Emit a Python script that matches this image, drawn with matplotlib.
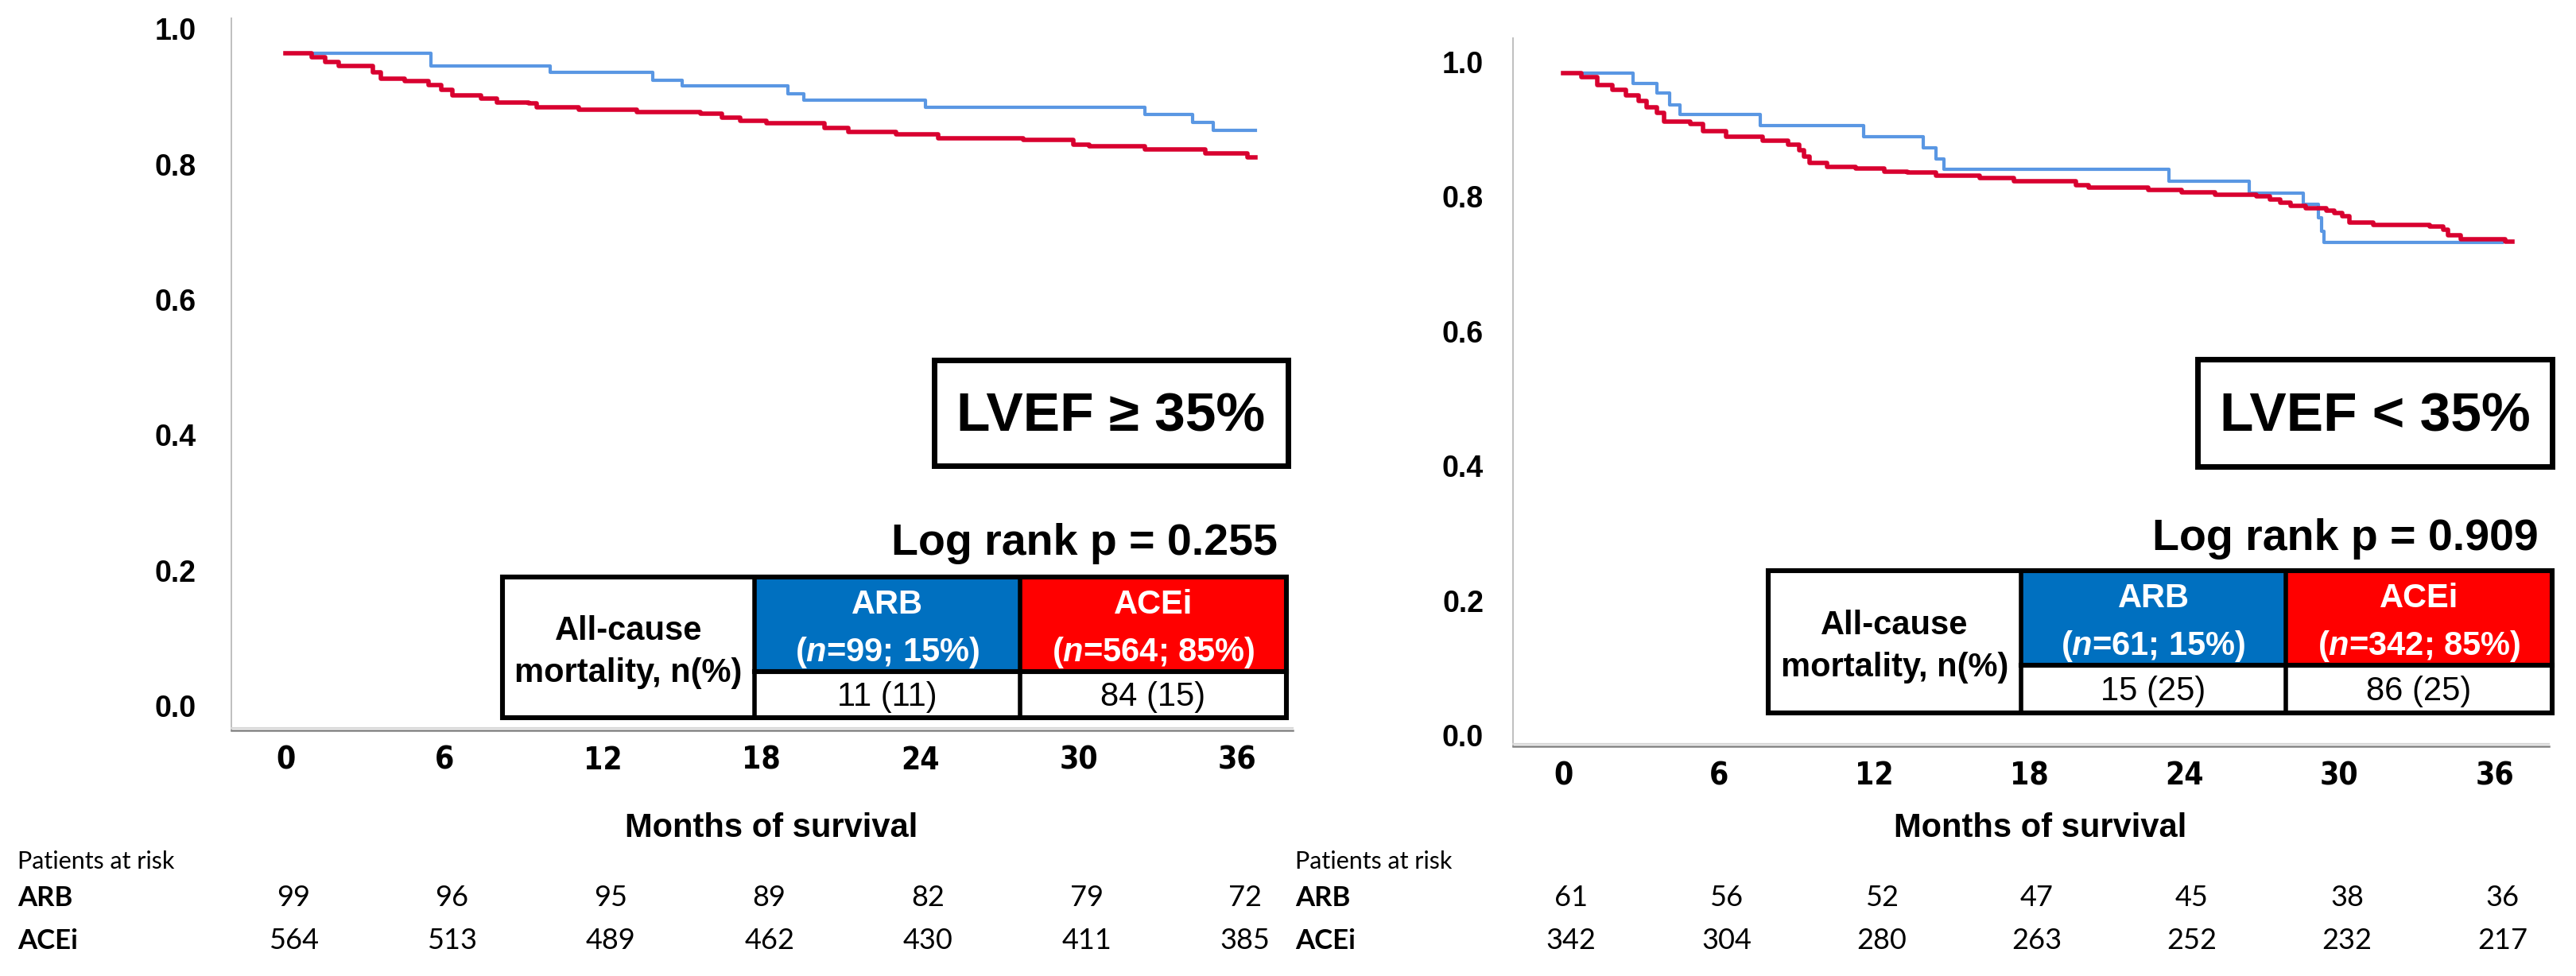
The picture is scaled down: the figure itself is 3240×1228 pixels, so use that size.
import matplotlib
matplotlib.use("Agg")
import matplotlib.pyplot as plt
import matplotlib.transforms as mtransforms
from matplotlib import font_manager as fm
from matplotlib.patches import Rectangle
from matplotlib.lines import Line2D

plt.rcParams['font.family'] = ['Liberation Sans', 'DejaVu Sans']
plt.rcParams['mathtext.fontset'] = 'custom'
plt.rcParams['mathtext.it'] = 'Liberation Sans:italic:bold'
plt.rcParams['mathtext.rm'] = 'Liberation Sans:bold'

# ---- data ----
months = [0, 6, 12, 18, 24, 30, 36]
surv_ticks = [0.0, 0.2, 0.4, 0.6, 0.8, 1.0]

# LVEF >= 35%
hi_arb_t = [0, 5.5, 10.0, 13.9, 15.0, 19.0, 19.6, 24.2, 32.5, 34.3, 35.1, 36.7]
hi_arb_s = [1.0, 0.981, 0.972, 0.961, 0.952, 0.941, 0.931, 0.920, 0.910, 0.898, 0.887, 0.887]
hi_ace_t = [0, 1.0, 1.5, 2.0, 3.3, 3.6, 4.5, 5.4, 5.9, 6.3, 7.4, 8.0, 9.2, 9.5, 11.1, 13.3,
            15.7, 16.5, 17.2, 18.2, 20.4, 21.3, 23.1, 24.7, 27.9, 29.8, 30.4, 32.5, 34.8, 36.4, 36.7]
hi_ace_s = [1.0, 0.995, 0.987, 0.982, 0.972, 0.963, 0.959, 0.953, 0.946, 0.938, 0.934, 0.928, 0.926,
            0.920, 0.917, 0.913, 0.911, 0.905, 0.900, 0.897, 0.890, 0.884, 0.881, 0.875, 0.872,
            0.865, 0.863, 0.858, 0.852, 0.847, 0.847]

# LVEF < 35%
lo_arb_t = [0, 2.7, 3.6, 4.1, 4.5, 7.6, 11.6, 13.9, 14.4, 14.7, 23.4, 26.5, 28.6, 29.2, 29.3, 29.4, 36.3]
lo_arb_s = [1.0, 0.985, 0.970, 0.953, 0.939, 0.922, 0.906, 0.889, 0.872, 0.857, 0.839, 0.822,
            0.805, 0.785, 0.765, 0.749, 0.749]
lo_ace_t = [0, 0.7, 1.3, 1.9, 2.4, 2.9, 3.2, 3.6, 3.9, 4.9, 5.4, 6.3, 7.7, 8.7, 9.1, 9.3, 9.5, 10.2,
            11.3, 12.4, 13.3, 14.4, 16.1, 17.4, 19.8, 20.3, 22.6, 23.9, 25.2, 26.8, 27.3, 27.7, 28.1,
            28.7, 29.5, 29.8, 30.1, 30.4, 31.3, 33.5, 34.0, 34.2, 34.7, 36.4, 36.7]
lo_ace_s = [1.0, 0.994, 0.982, 0.975, 0.967, 0.959, 0.949, 0.941, 0.928, 0.924, 0.914, 0.906, 0.900,
            0.894, 0.885, 0.876, 0.867, 0.861, 0.858, 0.854, 0.853, 0.848, 0.844, 0.839, 0.833,
            0.830, 0.826, 0.823, 0.819, 0.817, 0.812, 0.808, 0.803, 0.799, 0.796, 0.792, 0.787,
            0.778, 0.774, 0.772, 0.767, 0.759, 0.753, 0.750, 0.750]

hi_risk_arb = [99, 96, 95, 89, 82, 79, 72]
hi_risk_ace = [564, 513, 489, 462, 430, 411, 385]
lo_risk_arb = [61, 56, 52, 47, 45, 38, 36]
lo_risk_ace = [342, 304, 280, 263, 252, 232, 217]

titles = ["LVEF \u2265 35%", "LVEF < 35%"]
pvalues = ["Log rank p = 0.255", "Log rank p = 0.909"]
arb_n = [r"($\mathit{n}$=99; 15%)", r"($\mathit{n}$=61; 15%)"]
ace_n = [r"($\mathit{n}$=564; 85%)", r"($\mathit{n}$=342; 85%)"]
arb_deaths = ["11 (11)", "15 (25)"]
ace_deaths = ["84 (15)", "86 (25)"]

BLUE_LINE = '#5A97E3'
RED_LINE = '#D8002F'
BLUE_CELL = '#0070C0'
RED_CELL = '#FF0000'

# narrow bold face for the month tick labels, if one is installed
installed = fm.fontManager.ttflist
if any(f.name == 'Liberation Sans Narrow' for f in installed):
    narrow = dict(family='Liberation Sans Narrow', fontsize=30)
elif any(f.name == 'DejaVu Sans' and f.stretch == 'condensed' and f.weight in ('bold', 700)
         for f in installed):
    narrow = dict(family='DejaVu Sans', fontstretch='condensed', fontsize=28)
else:
    narrow = dict(family='Liberation Sans', fontsize=28)

W, H = 3240, 1228
DPI = 100
fig = plt.figure(figsize=(W / DPI, H / DPI), dpi=DPI)


def fx(x):
    return x / W


def fy(y):
    return 1 - y / H


def px_offset(dx, dy):
    return mtransforms.ScaledTranslation(dx / DPI, dy / DPI, fig.dpi_scale_trans)


# pixel layout of each panel (x0, x1, ytop, ybottom) and its decorations
panels = [
    dict(ax=(291, 1626, 23, 919), xlim=(-2.05, 38.1), ylab_dx=-44, ylab_dy=27, xlab_dy=-38,
         box=(1175, 1620, 453, 586), p_xy=(1607, 698),
         table=(632, 949, 1283, 1618, 726, 845, 903), risk_x=22,
         arb=(hi_arb_t, hi_arb_s), ace=(hi_ace_t, hi_ace_s),
         risk=(hi_risk_arb, hi_risk_ace)),
    dict(ax=(1903, 3206, 48, 939), xlim=(-1.95, 38.1), ylab_dx=-37, ylab_dy=10, xlab_dy=-37,
         box=(2764, 3210, 452, 587), p_xy=(3193, 692),
         table=(2224, 2542, 2875, 3210, 718, 837, 897), risk_x=1629,
         arb=(lo_arb_t, lo_arb_s), ace=(lo_ace_t, lo_ace_s),
         risk=(lo_risk_arb, lo_risk_ace)),
]

for i, p in enumerate(panels):
    x0, x1, yt, yb = p['ax']
    ax = fig.add_axes([fx(x0), fy(yb), fx(x1) - fx(x0), fy(yt) - fy(yb)])
    ax.set_xlim(*p['xlim'])
    ax.set_ylim(0, 1.052)
    for side in ('top', 'right'):
        ax.spines[side].set_visible(False)
    ax.spines['left'].set_color('#BFBFBF')
    ax.spines['left'].set_linewidth(1.4)
    ax.spines['bottom'].set_color('#858585')
    ax.spines['bottom'].set_linewidth(1.8)
    ax.set_xticks(months)
    ax.set_yticks(surv_ticks)
    ax.set_xticklabels([])
    ax.set_yticklabels([])
    ax.tick_params(length=0)
    # light band above the x axis
    fig.add_artist(Line2D([fx(x0), fx(x1)], [fy(yb - 3), fy(yb - 3)], color='#D6D6D6', lw=1.6))

    # curves
    t, s = p['arb']
    ax.step(t, s, where='post', color=BLUE_LINE, lw=3.0, zorder=3)
    t, s = p['ace']
    ax.step(t, s, where='post', color=RED_LINE, lw=4.0, zorder=4)

    # tick labels
    ytrans = mtransforms.blended_transform_factory(ax.transAxes, ax.transData) + \
        px_offset(p['ylab_dx'], p['ylab_dy'])
    for v in surv_ticks:
        ax.text(0, v, f"{v:.1f}", transform=ytrans, ha='right', va='center',
                fontsize=27, fontweight='bold')
    xtrans = mtransforms.blended_transform_factory(ax.transData, ax.transAxes) + \
        px_offset(0, p['xlab_dy'])
    for m in months:
        ax.text(m, 0, str(m), transform=xtrans, ha='center', va='center',
                fontweight='bold', **narrow)

    # x axis title
    fig.text(fx((x0 + x1) / 2 + 12), fy(1042), "Months of survival", ha='center', va='center',
             fontsize=30, fontweight='bold')

    # LVEF box
    bx0, bx1, by0, by1 = p['box']
    fig.add_artist(Rectangle((fx(bx0), fy(by1)), fx(bx1) - fx(bx0), fy(by0) - fy(by1),
                             transform=fig.transFigure, fill=False, ec='black', lw=5))
    fig.text(fx((bx0 + bx1) / 2), fy((by0 + by1) / 2 + 5), titles[i], ha='center', va='center',
             fontsize=50, fontweight='bold')

    # log rank
    fig.text(fx(p['p_xy'][0]), fy(p['p_xy'][1]), pvalues[i], ha='right', va='baseline',
             fontsize=40, fontweight='bold')

    # mortality table
    c0, c1, c2, c3, r0, r1, r2 = p['table']
    fig.add_artist(Rectangle((fx(c1), fy(r1)), fx(c2) - fx(c1), fy(r0) - fy(r1),
                             transform=fig.transFigure, color=BLUE_CELL, lw=0))
    fig.add_artist(Rectangle((fx(c2), fy(r1)), fx(c3) - fx(c2), fy(r0) - fy(r1),
                             transform=fig.transFigure, color=RED_CELL, lw=0))
    fig.add_artist(Rectangle((fx(c0), fy(r2)), fx(c3) - fx(c0), fy(r0) - fy(r2),
                             transform=fig.transFigure, fill=False, ec='black', lw=4.4))
    for cx in (c1, c2):
        fig.add_artist(Line2D([fx(cx), fx(cx)], [fy(r0), fy(r2)], color='black', lw=4))
    fig.add_artist(Line2D([fx(c1), fx(c3)], [fy(r1), fy(r1)], color='black', lw=4.4))

    fig.text(fx((c0 + c1) / 2), fy((r0 + r2) / 2 + 6), "All-cause\nmortality, n(%)",
             ha='center', va='center', fontsize=30, fontweight='bold', linespacing=1.45)
    for cl, cr, head, nline in ((c1, c2, "ARB", arb_n[i]), (c2, c3, "ACEi", ace_n[i])):
        fig.text(fx((cl + cr) / 2), fy(r0 + 35), head, ha='center', va='center',
                 fontsize=30, fontweight='bold', color='white')
        fig.text(fx((cl + cr) / 2), fy(r0 + 95), nline, ha='center', va='center',
                 fontsize=30, fontweight='bold', color='white')
    fig.text(fx((c1 + c2) / 2), fy((r1 + r2) / 2 + 3), arb_deaths[i], ha='center', va='center',
             fontsize=30)
    fig.text(fx((c2 + c3) / 2), fy((r1 + r2) / 2 + 3), ace_deaths[i], ha='center', va='center',
             fontsize=30)

    # patients at risk
    rx = p['risk_x']
    fig.text(fx(rx), fy(1084), "Patients at risk", ha='left', va='center', fontsize=22,
             family=['Lato', 'Liberation Sans'])
    rtrans = mtransforms.blended_transform_factory(ax.transData, fig.transFigure)
    for row_y, name, vals in ((1130, "ARB", p['risk'][0]), (1184, "ACEi", p['risk'][1])):
        fig.text(fx(rx), fy(row_y), name, ha='left', va='center', fontsize=25, fontweight='bold',
                 family=['Lato', 'Liberation Sans'])
        for m, v in zip(months, vals):
            fig.text(m + 0.3, fy(row_y), str(v), transform=rtrans, ha='center', va='center',
                     fontsize=26, family=['Lato', 'Liberation Sans'])

fig.savefig("out.png", dpi=DPI, facecolor='white')
